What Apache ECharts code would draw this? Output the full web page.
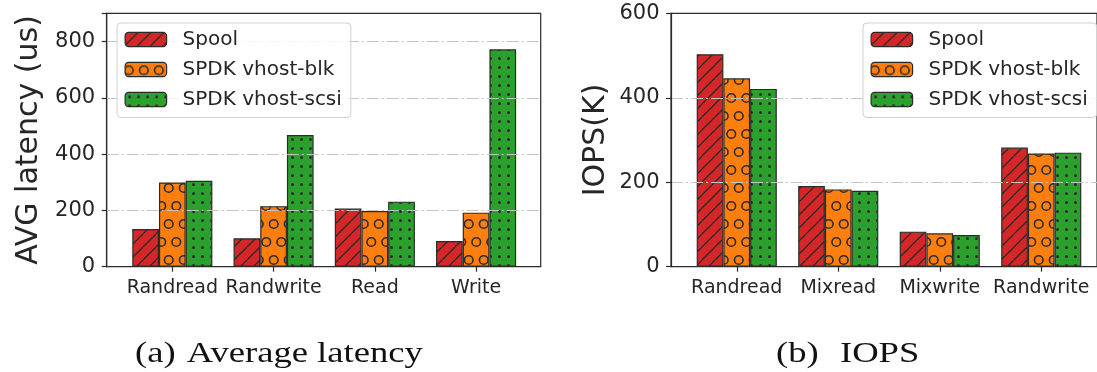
<!DOCTYPE html>
<html><head><meta charset="utf-8">
<script src="https://cdn.jsdelivr.net/npm/echarts@6/dist/echarts.min.js"></script>
<style>html,body{margin:0;padding:0;background:#fff}#c{width:1097px;height:372px}</style>
</head><body><div id="c"></div>
<script>
// ---- data ----
const latCategories = ['Randread', 'Randwrite', 'Read', 'Write'];
const iopsCategories = ['Randread', 'Mixread', 'Mixwrite', 'Randwrite'];
const seriesNames = ['Spool', 'SPDK vhost-blk', 'SPDK vhost-scsi'];
const latSpool = [134, 101, 207, 91];
const latBlk = [299, 215, 198, 192];
const latScsi = [305, 468, 231, 772];
const iopsSpool = [503, 191, 83, 282];
const iopsBlk = [446, 183, 79, 268];
const iopsScsi = [421, 180, 75, 270];
const latTickStep = 200;
const iopsTickStep = 200;

// ---- styles ----
const INK = '#2b2b2b';
const TXT = '#262626';
const FONT = 'DejaVu Sans';
const RED = '#d62728', ORANGE = '#ff7f0e', GREEN = '#2ca02c';

function makeTile(w, h, bg, draw) {
  const c = document.createElement('canvas');
  c.width = w; c.height = h;
  const g = c.getContext('2d');
  g.fillStyle = bg; g.fillRect(0, 0, w, h);
  g.strokeStyle = INK; g.fillStyle = INK;
  draw(g, w, h);
  return { image: c, repeat: 'repeat' };
}
const hatchRed = makeTile(13, 13, RED, (g, w, h) => {
  g.lineWidth = 1.3;
  for (let k = -1; k <= 1; k++) {
    g.beginPath(); g.moveTo(k * w, h); g.lineTo(k * w + w, 0); g.stroke();
  }
});
const ringsOrange = makeTile(15, 36, ORANGE, (g, w, h) => {
  g.lineWidth = 1.6;
  const centers = [[3.75, 8], [11.25, 26]];
  for (const [cx, cy] of centers)
    for (const dx of [-w, 0, w]) for (const dy of [-h, 0, h]) {
      g.beginPath(); g.arc(cx + dx, cy + dy, 4.3, 0, Math.PI * 2); g.stroke();
    }
});
const dotsGreen = makeTile(9, 9, GREEN, (g) => {
  g.beginPath(); g.arc(4.5, 4.5, 1.5, 0, Math.PI * 2); g.fill();
});
const fills = [hatchRed, ringsOrange, dotsGreen];

function frameYAxis(gridIndex, max, step, name, nameGap) {
  return {
    gridIndex, type: 'value', min: 0, max, interval: step, z: 10,
    axisLine: { show: true, lineStyle: { color: INK, width: 1.2 } },
    axisTick: { show: true, length: 5, lineStyle: { color: INK, width: 1.2 } },
    axisLabel: { formatter: v => (v % step === 0 ? String(v) : ''), fontSize: 21, color: TXT, fontFamily: FONT, margin: 11.5 },
    splitLine: { show: true, showMinLine: false, showMaxLine: false, lineStyle: { type: [12, 3, 2, 3], color: '#c4c4c4', width: 1.2 } },
    name, nameLocation: 'middle', nameGap,
    nameTextStyle: { fontSize: 30, color: TXT, fontFamily: FONT }
  };
}
function topFrameAxis(gridIndex) {
  return {
    gridIndex, type: 'value', min: 0, max: 1, position: 'top', z: 11,
    axisLine: { show: true, lineStyle: { color: INK, width: 1.2 } },
    axisTick: { show: false }, axisLabel: { show: false }, splitLine: { show: false }
  };
}
function catXAxis(gridIndex, data) {
  return {
    gridIndex, type: 'category', data, z: 11,
    axisLine: { show: true, lineStyle: { color: INK, width: 1.2 } },
    axisTick: { show: true, alignWithLabel: true, length: 5, lineStyle: { color: INK, width: 1.2 } },
    axisLabel: { fontSize: 19, color: TXT, fontFamily: FONT, margin: 12, interval: 0 }
  };
}
function barSeries(xi, yi, values, idx) {
  return {
    name: seriesNames[idx], type: 'bar', xAxisIndex: xi, yAxisIndex: yi,
    data: values, barWidth: 26.7, barGap: '0%',
    itemStyle: { color: fills[idx], borderColor: INK, borderWidth: 1.2 },
    emphasis: { disabled: true }
  };
}
function legendAt(left) {
  return {
    left, top: 23, orient: 'vertical', z: 20,
    data: seriesNames,
    itemWidth: 41.5, itemHeight: 14.4, itemGap: 10,
    padding: [6.5, 9, 8, 7.5],
    backgroundColor: 'rgba(255,255,255,0.8)',
    borderColor: '#d0d0d0', borderWidth: 1, borderRadius: 4,
    itemStyle: { borderColor: INK, borderWidth: 1.2 },
    textStyle: { fontSize: 20, color: TXT, fontFamily: FONT, padding: [0, 0, 0, 11] },
    selectedMode: false
  };
}
function caption(text, x) {
  return {
    type: 'text', x, y: 354, scaleX: 1.22,
    style: { text, font: '30px "Liberation Serif"', fill: '#111', verticalAlign: 'middle', align: 'left' }
  };
}

const chart = echarts.init(document.getElementById('c'), null, { renderer: 'canvas' });
chart.setOption({
  animation: false,
  backgroundColor: '#fff',
  grid: [
    { left: 106.7, top: 13.3, width: 434, height: 253.4, show: true, borderColor: INK, borderWidth: 1.2, backgroundColor: 'transparent' },
    { left: 121.7, top: 13.3, width: 405, height: 253.4 },
    { left: 671, top: 13.3, width: 434, height: 253.4, show: true, borderColor: INK, borderWidth: 1.2, backgroundColor: 'transparent' },
    { left: 686, top: 13.3, width: 406, height: 253.4 }
  ],
  xAxis: [
    topFrameAxis(0),
    catXAxis(1, latCategories),
    topFrameAxis(2),
    catXAxis(3, iopsCategories)
  ],
  yAxis: [
    frameYAxis(0, 900, latTickStep, 'AVG latency (us)', 62),
    { gridIndex: 1, type: 'value', min: 0, max: 900, show: false },
    frameYAxis(2, 600, iopsTickStep, 'IOPS(K)', 60),
    { gridIndex: 3, type: 'value', min: 0, max: 600, show: false }
  ],
  legend: [legendAt(117), legendAt(863)],
  series: [
    barSeries(1, 1, latSpool, 0),
    barSeries(1, 1, latBlk, 1),
    barSeries(1, 1, latScsi, 2),
    barSeries(3, 3, iopsSpool, 0),
    barSeries(3, 3, iopsBlk, 1),
    barSeries(3, 3, iopsScsi, 2)
  ],
  graphic: [
    caption('(a)', 135),
    caption('Average latency', 186.7),
    caption('(b)', 776),
    caption('IOPS', 840)
  ]
});
</script>
</body></html>
